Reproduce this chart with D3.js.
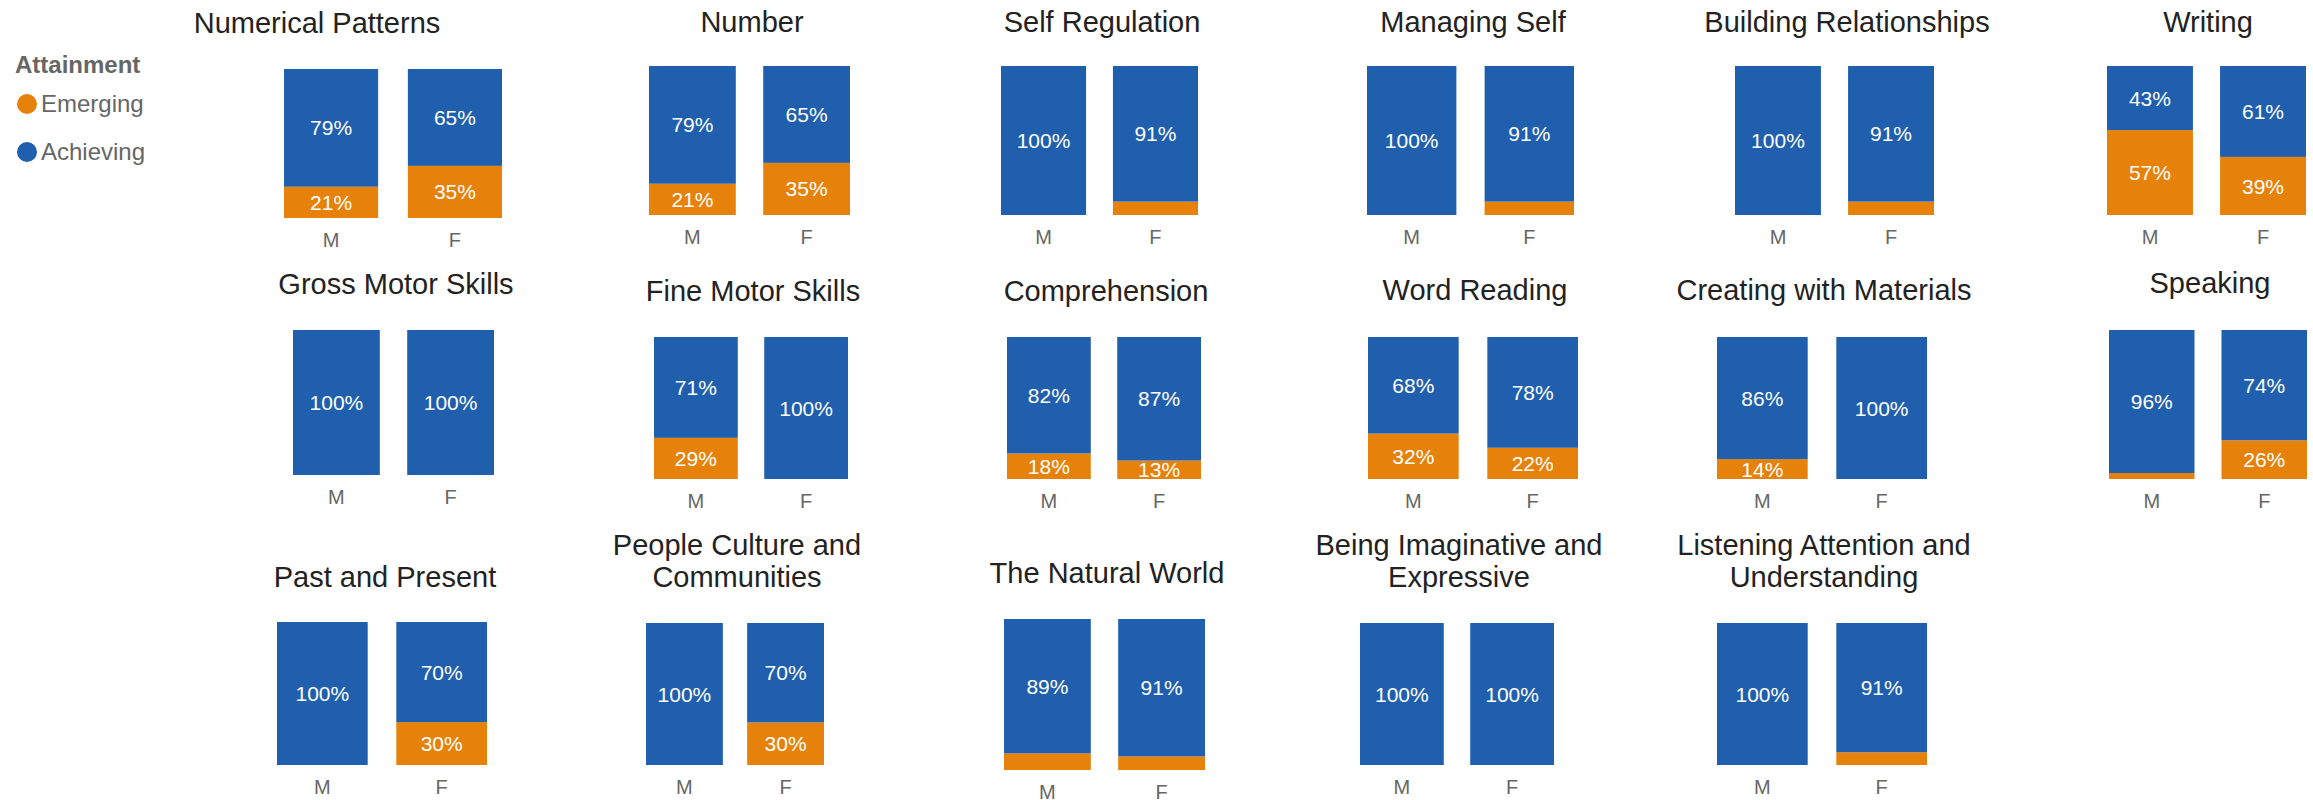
<!DOCTYPE html>
<html>
<head>
<meta charset="utf-8">
<script src="https://cdn.jsdelivr.net/npm/d3@7"></script>
<style>
  body { margin: 0; background: #fff; }
  svg { display: block; font-family: "Liberation Sans", Arial, sans-serif; }
</style>
</head>
<body>
<svg id="chart" width="2313" height="800"></svg>
<script>
// data
const areas = [
  "Numerical Patterns", "Number", "Self Regulation", "Managing Self", "Building Relationships", "Writing",
  "Gross Motor Skills", "Fine Motor Skills", "Comprehension", "Word Reading", "Creating with Materials", "Speaking",
  "Past and Present", "People Culture and Communities", "The Natural World", "Being Imaginative and Expressive",
  "Listening Attention and Understanding"
];
const genders = ["M", "F"];
const achievingM = [79, 79, 100, 100, 100, 43, 100, 71, 82, 68, 86, 96, 100, 100, 89, 100, 100];
const emergingM  = [21, 21, 0, 0, 0, 57, 0, 29, 18, 32, 14, 4, 0, 0, 11, 0, 0];
const achievingF = [65, 65, 91, 91, 91, 61, 100, 100, 87, 78, 100, 74, 70, 70, 91, 100, 91];
const emergingF  = [35, 35, 9, 9, 9, 39, 0, 0, 13, 22, 0, 26, 30, 30, 9, 0, 9];
const seriesNames = ["Emerging", "Achieving"];

// where each small panel sits: bar span left/right, top/bottom, title centre, title baseline
const panels = [
  { x0: 284, x1: 502, top: 69, bottom: 218, tx: 317, ty: 33 },
  { x0: 649, x1: 850, top: 66, bottom: 215, tx: 752, ty: 32 },
  { x0: 1001, x1: 1198, top: 66, bottom: 215, tx: 1102, ty: 32 },
  { x0: 1367, x1: 1574, top: 66, bottom: 215, tx: 1473, ty: 32 },
  { x0: 1735, x1: 1934, top: 66, bottom: 215, tx: 1847, ty: 32 },
  { x0: 2107, x1: 2306, top: 66, bottom: 215, tx: 2208, ty: 32 },
  { x0: 293, x1: 494, top: 330, bottom: 475, tx: 396, ty: 294 },
  { x0: 654, x1: 848, top: 337, bottom: 479, tx: 753, ty: 301 },
  { x0: 1007, x1: 1201, top: 337, bottom: 479, tx: 1106, ty: 301 },
  { x0: 1368, x1: 1578, top: 337, bottom: 479, tx: 1475, ty: 300 },
  { x0: 1717, x1: 1927, top: 337, bottom: 479, tx: 1824, ty: 300 },
  { x0: 2109, x1: 2307, top: 330, bottom: 479, tx: 2210, ty: 293 },
  { x0: 277, x1: 487, top: 622, bottom: 765, tx: 385, ty: 587 },
  { x0: 646, x1: 824, top: 623, bottom: 765, tx: 737, ty: 587, wrap: true },
  { x0: 1004, x1: 1205, top: 619, bottom: 770, tx: 1107, ty: 583 },
  { x0: 1360, x1: 1554, top: 623, bottom: 765, tx: 1459, ty: 587, wrap: true },
  { x0: 1717, x1: 1927, top: 623, bottom: 765, tx: 1824, ty: 587, wrap: true }
];

const colors = { emerging: "#e6820a", achieving: "#1f5fad" };

const svg = d3.select("#chart");

// legend
const legend = svg.append("g");
legend.append("text")
  .attr("x", 15).attr("y", 73)
  .attr("font-size", 24).attr("font-weight", "bold")
  .attr("fill", "#666")
  .text("Attainment");
seriesNames.forEach((name, i) => {
  const cy = 104 + i * 48;
  legend.append("circle")
    .attr("cx", 27).attr("cy", cy).attr("r", 10)
    .attr("fill", i === 0 ? colors.emerging : colors.achieving);
  legend.append("text")
    .attr("x", 41).attr("y", cy + 8)
    .attr("font-size", 24).attr("fill", "#666")
    .text(name);
});

const stack = d3.stack().keys(["emerging", "achieving"]);

areas.forEach((area, i) => {
  const p = panels[i];
  const rows = [
    { gender: "M", emerging: emergingM[i], achieving: achievingM[i] },
    { gender: "F", emerging: emergingF[i], achieving: achievingF[i] }
  ];

  const x = d3.scaleBand()
    .domain(genders)
    .range([p.x0, p.x1])
    .paddingInner(0.24)
    .paddingOuter(0);

  const y = d3.scaleLinear()
    .domain([0, 100])
    .range([p.bottom, p.top]);

  const g = svg.append("g");

  // title, last word drops to a second line when wrapped
  const title = g.append("text")
    .attr("text-anchor", "middle")
    .attr("font-size", 29)
    .attr("fill", "#222");
  if (p.wrap) {
    const words = area.split(" ");
    title.append("tspan").attr("x", p.tx).attr("y", p.ty - 32).text(words.slice(0, -1).join(" "));
    title.append("tspan").attr("x", p.tx).attr("y", p.ty).text(words[words.length - 1]);
  } else {
    title.attr("x", p.tx).attr("y", p.ty).text(area);
  }

  const layers = g.selectAll(".layer")
    .data(stack(rows))
    .enter().append("g")
    .attr("fill", d => colors[d.key]);

  layers.selectAll("rect")
    .data(d => d)
    .enter().append("rect")
    .attr("x", d => x(d.data.gender))
    .attr("y", d => y(d[1]))
    .attr("width", x.bandwidth())
    .attr("height", d => y(d[0]) - y(d[1]));

  // value labels, hidden where the segment is too short
  layers.selectAll("text")
    .data(d => d.map(s => ({ s, v: s[1] - s[0] })))
    .enter().append("text")
    .filter(d => d.v > 0 && (y(d.s[0]) - y(d.s[1])) >= 17)
    .attr("x", d => x(d.s.data.gender) + x.bandwidth() / 2)
    .attr("y", d => (y(d.s[0]) + y(d.s[1])) / 2)
    .attr("dy", "0.36em")
    .attr("text-anchor", "middle")
    .attr("font-size", 21)
    .attr("fill", "#fff")
    .text(d => d.v + "%");

  const axis = g.append("g")
    .attr("transform", "translate(0," + p.bottom + ")")
    .call(d3.axisBottom(x).tickSize(0).tickPadding(15));
  axis.select(".domain").remove();
  axis.selectAll("text")
    .attr("font-size", 20)
    .attr("fill", "#666")
    .style("font-family", "'Liberation Sans', Arial, sans-serif");
});
</script>
</body>
</html>
